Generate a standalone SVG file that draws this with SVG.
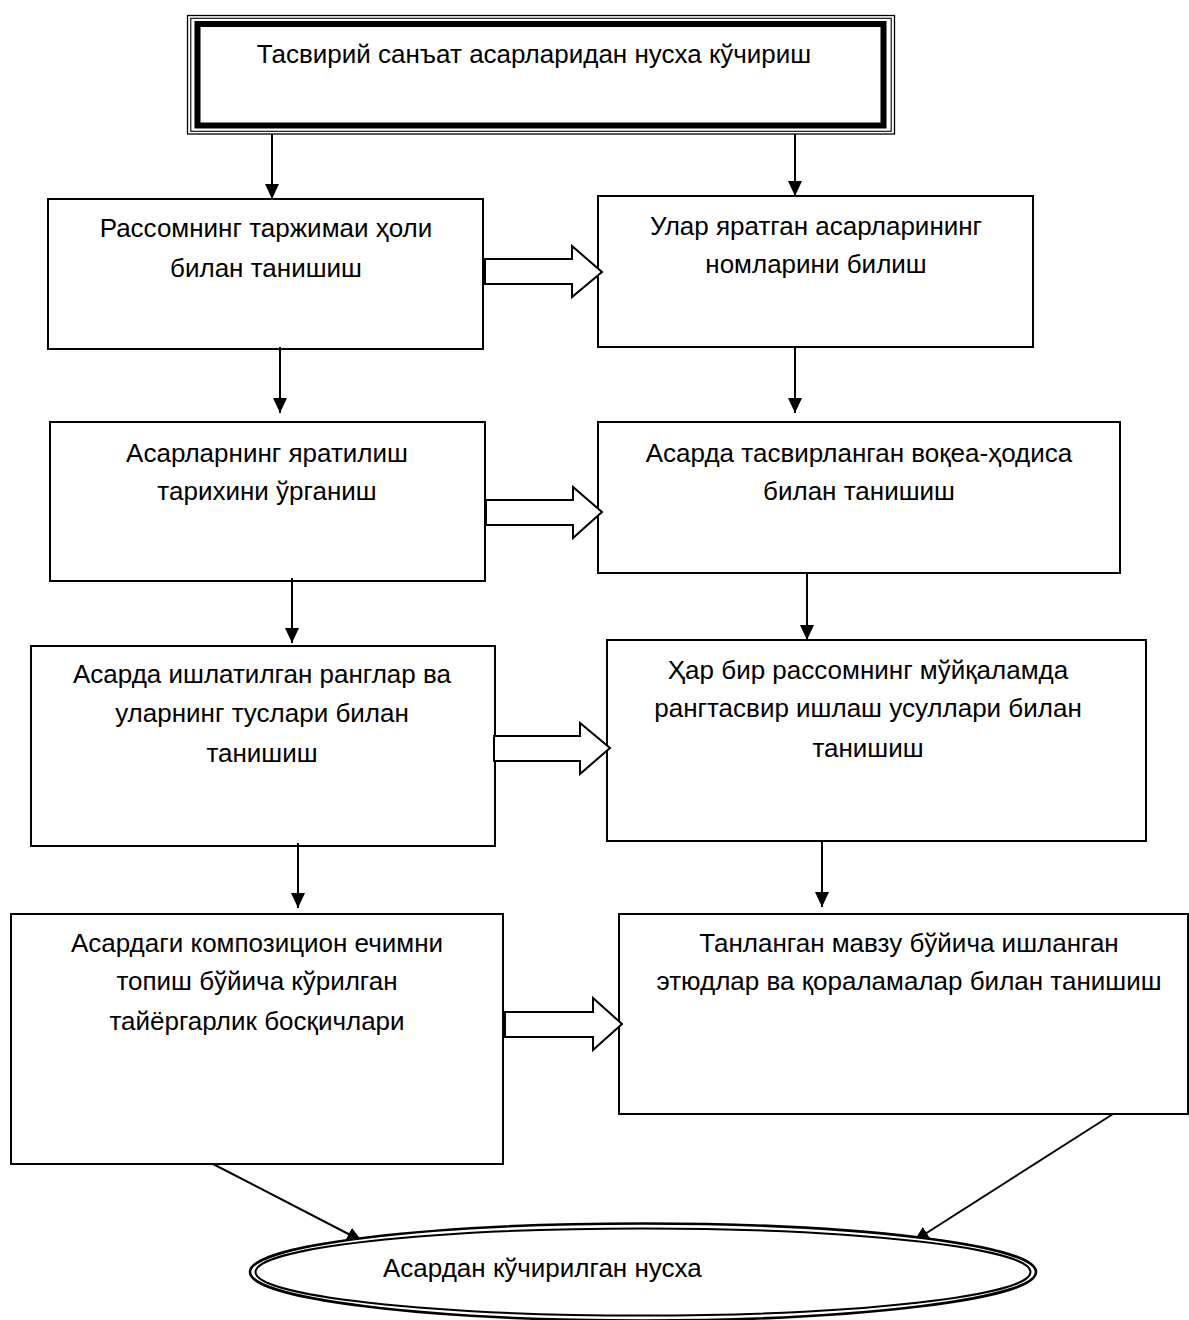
<svg xmlns="http://www.w3.org/2000/svg" width="1189" height="1320" viewBox="0 0 1189 1320">
<defs>
<style>
.box{fill:#fff;stroke:#000;stroke-width:2}
.t{font-family:"Liberation Sans",Arial,sans-serif;font-size:26px;fill:#000;text-anchor:middle}
.tl{font-family:"Liberation Sans",Arial,sans-serif;font-size:26px;fill:#000}
.ln{fill:none;stroke:#000;stroke-width:2}
.blk{fill:#fff;stroke:#000;stroke-width:2;stroke-linejoin:miter}
</style>
<marker id="ah" markerUnits="userSpaceOnUse" markerWidth="16" markerHeight="14" refX="15" refY="7" orient="auto" viewBox="0 0 16 14">
<path d="M0,0 L15,7 L0,14 z" fill="#000"/>
</marker>
</defs>
<rect width="1189" height="1320" fill="#fff"/>

<g id="node-top">
<rect x="187.5" y="15.5" width="707" height="118.5" fill="#fff" stroke="#000" stroke-width="1.3"/>
<rect x="190.8" y="18.3" width="700.4" height="113" fill="none" stroke="#000" stroke-width="1.1"/>
<rect x="197.5" y="24" width="686" height="101.5" fill="none" stroke="#000" stroke-width="6"/>
<text class="t" x="534" y="63">Тасвирий санъат асарларидан нусха кўчириш</text>
</g>

<g id="node-l1">
<rect class="box" x="48" y="199" width="435" height="150"/>
<text class="t" x="266" y="237">Рассомнинг таржимаи ҳоли</text>
<text class="t" x="266" y="277">билан танишиш</text>
</g>
<g id="node-r1">
<rect class="box" x="598" y="196" width="435" height="151"/>
<text class="t" x="816" y="235">Улар яратган асарларининг</text>
<text class="t" x="816" y="273">номларини билиш</text>
</g>
<g id="node-l2">
<rect class="box" x="50" y="422" width="435" height="159"/>
<text class="t" x="267" y="462">Асарларнинг яратилиш</text>
<text class="t" x="267" y="500">тарихини ўрганиш</text>
</g>
<g id="node-r2">
<rect class="box" x="598" y="422" width="522" height="151"/>
<text class="t" x="859" y="462">Асарда тасвирланган воқеа-ҳодиса</text>
<text class="t" x="859" y="500">билан танишиш</text>
</g>
<g id="node-l3">
<rect class="box" x="31" y="646" width="464" height="200"/>
<text class="t" x="262" y="683">Асарда ишлатилган ранглар ва</text>
<text class="t" x="262" y="722">уларнинг туслари билан</text>
<text class="t" x="262" y="762">танишиш</text>
</g>
<g id="node-r3">
<rect class="box" x="607" y="640" width="539" height="201"/>
<text class="t" x="868" y="679">Ҳар бир рассомнинг мўйқаламда</text>
<text class="t" x="868" y="717">рангтасвир ишлаш усуллари билан</text>
<text class="t" x="868" y="757">танишиш</text>
</g>
<g id="node-l4">
<rect class="box" x="11" y="914" width="492" height="250"/>
<text class="t" x="257" y="952">Асардаги композицион ечимни</text>
<text class="t" x="257" y="990">топиш бўйича кўрилган</text>
<text class="t" x="257" y="1030">тайёргарлик босқичлари</text>
</g>
<g id="node-r4">
<rect class="box" x="619" y="914" width="569" height="200"/>
<text class="t" x="909" y="952">Танланган мавзу бўйича ишланган</text>
<text class="t" x="909" y="990">этюдлар ва қораламалар билан танишиш</text>
</g>

<g id="connectors">
<line class="ln" x1="272" y1="134" x2="272" y2="199" marker-end="url(#ah)"/>
<line class="ln" x1="795" y1="134" x2="795" y2="196" marker-end="url(#ah)"/>
<line class="ln" x1="280" y1="347" x2="280" y2="413" marker-end="url(#ah)"/>
<line class="ln" x1="795" y1="347" x2="795" y2="413" marker-end="url(#ah)"/>
<line class="ln" x1="292" y1="578" x2="292" y2="643" marker-end="url(#ah)"/>
<line class="ln" x1="807" y1="573" x2="807" y2="640" marker-end="url(#ah)"/>
<line class="ln" x1="298" y1="843" x2="298" y2="908" marker-end="url(#ah)"/>
<line class="ln" x1="822" y1="841" x2="822" y2="907" marker-end="url(#ah)"/>
<polygon class="blk" points="485,259 572,259 572,246 602,272 572,297 572,284 485,284"/>
<polygon class="blk" points="486,500 573,500 573,487 602,512 573,538 573,525 486,525"/>
<polygon class="blk" points="494,736 580,736 580,723 610,748 580,774 580,761 494,761"/>
<polygon class="blk" points="505,1012 593,1012 593,998 622,1024 593,1050 593,1037 505,1037"/>
<line class="ln" x1="213" y1="1164" x2="362" y2="1241" marker-end="url(#ah)"/>
<line class="ln" x1="1113" y1="1114" x2="914" y2="1241" marker-end="url(#ah)"/>
</g>

<g id="node-result">
<ellipse cx="643" cy="1272" rx="393" ry="48.5" fill="#fff" stroke="#000" stroke-width="2.6"/>
<ellipse cx="643" cy="1272" rx="387.5" ry="43.5" fill="none" stroke="#000" stroke-width="2"/>
<text class="tl" x="383" y="1277">Асардан кўчирилган нусха</text>
</g>
</svg>
